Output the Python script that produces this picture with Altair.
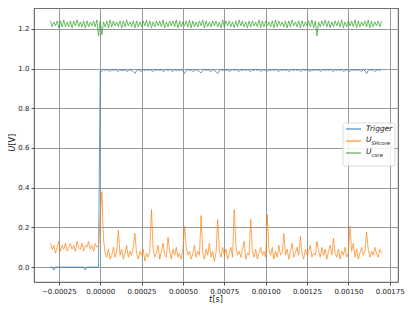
import altair as alt
import pandas as pd

# sample grid: start time and step (s)
T0 = -0.0003
DT = 1e-5

trigger = [
    0, 0, -0.015, 0, 0, 0, 0, 0, 0, 0,
    0, 0, 0, 0, 0, 0, 0, 0, 0, 0,
    0, -0.015, 0, 0, 0, 0, 0, 0, 0, 0,
    0.99, 0.985, 0.995, 0.99, 0.995, 0.99, 0.985, 0.995, 0.99, 0.995,
    0.99, 0.985, 0.995, 0.99, 0.99, 0.995, 0.985, 0.99, 0.995, 0.99,
    0.985, 0.975, 0.99, 0.995, 0.99, 0.985, 0.995, 0.99, 0.995, 0.99,
    0.995, 0.99, 0.985, 0.995, 0.99, 0.995, 0.99, 0.995, 0.985, 0.99,
    0.995, 0.99, 0.995, 0.99, 0.985, 0.995, 0.99, 0.995, 0.99, 0.995,
    0.99, 0.975, 0.99, 0.995, 0.99, 0.995, 0.985, 0.99, 0.995, 0.99,
    0.985, 0.978, 0.99, 0.995, 0.99, 0.995, 0.99, 0.985, 0.995, 0.99,
    0.985, 0.975, 0.99, 0.995, 0.99, 0.995, 0.99, 0.995, 0.985, 0.99,
    0.995, 0.99, 0.995, 0.99, 0.985, 0.995, 0.99, 0.995, 0.99, 0.995,
    0.99, 0.985, 0.995, 0.99, 0.995, 0.99, 0.995, 0.985, 0.99, 0.995,
    0.99, 0.985, 0.995, 0.99, 0.995, 0.99, 0.995, 0.99, 0.985, 0.995,
    0.99, 0.995, 0.99, 0.995, 0.985, 0.99, 0.995, 0.99, 0.995, 0.99,
    0.995, 0.985, 0.99, 0.995, 0.99, 0.995, 0.99, 0.985, 0.995, 0.99,
    0.995, 0.99, 0.995, 0.985, 0.99, 0.995, 0.99, 0.995, 0.99, 0.995,
    0.99, 0.985, 0.995, 0.99, 0.995, 0.99, 0.995, 0.985, 0.99, 0.995,
    0.99, 0.985, 0.995, 0.99, 0.995, 0.99, 0.995, 0.99, 0.985, 0.995,
    0.99, 0.975, 0.99, 0.995, 0.99, 0.995, 0.985, 0.99, 0.995, 0.99,
    0.995,
]

u_shcore = [
    0.12, 0.09, 0.11, 0.07, 0.10, 0.13, 0.08, 0.11, 0.09, 0.12,
    0.08, 0.10, 0.12, 0.09, 0.11, 0.08, 0.13, 0.10, 0.09, 0.12,
    0.08, 0.11, 0.10, 0.13, 0.09, 0.11, 0.08, 0.12, 0.10, 0.11,
    0.25, 0.38, 0.14, 0.07, 0.05, 0.09, 0.04, 0.06, 0.10, 0.05,
    0.08, 0.185, 0.06, 0.09, 0.04, 0.07, 0.11, 0.05, 0.08, 0.06,
    0.10, 0.17, 0.07, 0.04, 0.08, 0.06, 0.09, 0.03, 0.07, 0.05,
    0.08, 0.29, 0.09, 0.05, 0.07, 0.11, 0.04, 0.08, 0.12, 0.06,
    0.05, 0.15, 0.08, 0.04, 0.09, 0.06, 0.10, 0.05, 0.07, 0.04,
    0.09, 0.205, 0.10, 0.06, 0.08, 0.04, 0.07, 0.11, 0.05, 0.08,
    0.06, 0.26, 0.07, 0.04, 0.09, 0.06, 0.12, 0.05, 0.08, 0.03,
    0.07, 0.24, 0.08, 0.05, 0.10, 0.06, 0.09, 0.04, 0.07, 0.10,
    0.05, 0.29, 0.11, 0.06, 0.08, 0.05, 0.09, 0.13, 0.04, 0.07,
    0.06, 0.24, 0.08, 0.05, 0.09, 0.04, 0.07, 0.10, 0.06, 0.08,
    0.05, 0.265, 0.09, 0.06, 0.10, 0.04, 0.08, 0.05, 0.11, 0.06,
    0.07, 0.17, 0.06, 0.09, 0.04, 0.08, 0.12, 0.05, 0.07, 0.10,
    0.06, 0.155, 0.07, 0.04, 0.09, 0.06, 0.08, 0.11, 0.05, 0.07,
    0.06, 0.13, 0.08, 0.05, 0.10, 0.06, 0.09, 0.04, 0.08, 0.11,
    0.06, 0.145, 0.07, 0.05, 0.09, 0.04, 0.08, 0.06, 0.10, 0.05,
    0.07, 0.205, 0.08, 0.12, 0.05, 0.09, 0.04, 0.07, 0.10, 0.06,
    0.08, 0.175, 0.09, 0.05, 0.08, 0.06, 0.10, 0.07, 0.05, 0.09,
    0.07,
]

u_core = [
    1.24, 1.21, 1.235, 1.215, 1.24, 1.205, 1.24, 1.21, 1.245, 1.21,
    1.235, 1.21, 1.24, 1.205, 1.24, 1.215, 1.245, 1.21, 1.235, 1.21,
    1.24, 1.205, 1.24, 1.21, 1.235, 1.215, 1.24, 1.21, 1.245, 1.165,
    1.24, 1.17, 1.235, 1.21, 1.24, 1.205, 1.245, 1.21, 1.24, 1.215,
    1.235, 1.21, 1.24, 1.205, 1.24, 1.21, 1.245, 1.215, 1.235, 1.21,
    1.24, 1.205, 1.24, 1.21, 1.235, 1.21, 1.24, 1.215, 1.245, 1.21,
    1.24, 1.205, 1.235, 1.21, 1.24, 1.215, 1.24, 1.21, 1.245, 1.205,
    1.235, 1.21, 1.24, 1.215, 1.24, 1.21, 1.245, 1.205, 1.24, 1.21,
    1.235, 1.215, 1.24, 1.21, 1.245, 1.205, 1.24, 1.21, 1.235, 1.21,
    1.24, 1.215, 1.245, 1.205, 1.24, 1.21, 1.235, 1.21, 1.24, 1.215,
    1.24, 1.21, 1.235, 1.205, 1.245, 1.21, 1.24, 1.215, 1.24, 1.21,
    1.235, 1.205, 1.24, 1.21, 1.245, 1.215, 1.24, 1.21, 1.235, 1.205,
    1.24, 1.21, 1.24, 1.215, 1.235, 1.21, 1.245, 1.205, 1.24, 1.21,
    1.24, 1.215, 1.235, 1.21, 1.24, 1.205, 1.245, 1.21, 1.24, 1.215,
    1.235, 1.21, 1.24, 1.205, 1.24, 1.21, 1.245, 1.215, 1.235, 1.21,
    1.24, 1.205, 1.24, 1.21, 1.235, 1.215, 1.24, 1.21, 1.245, 1.205,
    1.24, 1.165, 1.235, 1.21, 1.24, 1.215, 1.245, 1.21, 1.24, 1.205,
    1.235, 1.21, 1.24, 1.215, 1.24, 1.21, 1.245, 1.205, 1.235, 1.21,
    1.24, 1.215, 1.24, 1.21, 1.245, 1.205, 1.24, 1.21, 1.235, 1.215,
    1.24, 1.21, 1.245, 1.205, 1.24, 1.21, 1.235, 1.215, 1.24, 1.21,
    1.24,
]

x_ticks = [-0.00025, 0.0, 0.00025, 0.0005, 0.00075, 0.001, 0.00125, 0.0015, 0.00175]
y_ticks = [0.0, 0.2, 0.4, 0.6, 0.8, 1.0, 1.2]
series_names = ["Trigger", "U_SHcore", "U_core"]
colors = ["#1f77b4", "#ff7f0e", "#2ca02c"]

t = [T0 + i * DT for i in range(len(trigger))]

FONT = "DejaVu Sans"
W, H = 364, 274

xscale = alt.Scale(domain=[-0.0004, 0.0018], nice=False, zero=False)
yscale = alt.Scale(domain=[-0.075, 1.305], nice=False, zero=False)


def series_chart(vals, color, with_axes=False):
    df = pd.DataFrame({"t": t, "v": vals})
    if with_axes:
        xenc = alt.X("t:Q", scale=xscale, title=None,
                     axis=alt.Axis(values=x_ticks, format=".5f"))
        yenc = alt.Y("v:Q", scale=yscale, title=None,
                     axis=alt.Axis(values=y_ticks, format=".1f"))
    else:
        xenc = alt.X("t:Q", scale=xscale)
        yenc = alt.Y("v:Q", scale=yscale)
    return alt.Chart(df).mark_line(color=color, strokeWidth=0.7).encode(x=xenc, y=yenc)


one = pd.DataFrame({"a": [0]})


def txt(s, x, y, size, italic=False, angle=0):
    kw = dict(font=FONT, fontSize=size, align="left", baseline="middle", color="#111")
    if italic:
        kw["fontStyle"] = "italic"
    if angle:
        kw["angle"] = angle
    return alt.Chart(one).mark_text(**kw).encode(
        x=alt.value(x), y=alt.value(y), text=alt.value(s))


layers = [
    series_chart(trigger, colors[0], with_axes=True),
    series_chart(u_shcore, colors[1]),
    series_chart(u_core, colors[2]),
]

# axis titles
layers += [
    txt("t", 175, 292, 8, italic=True),
    txt("[s]", 178.5, 292, 8),
    txt("U", -21, 143.5, 8, italic=True, angle=270),
    txt("[V]", -21, 137.5, 8, angle=270),
]

# legend
layers.append(
    alt.Chart(one).mark_rect(fill="white", stroke="#cccccc", strokeWidth=0.8,
                             cornerRadius=2, opacity=0.85).encode(
        x=alt.value(309), x2=alt.value(361), y=alt.value(115), y2=alt.value(158))
)
for k, yy in enumerate([121, 133, 145]):
    layers.append(
        alt.Chart(one).mark_rule(color=colors[k], strokeWidth=1).encode(
            x=alt.value(312), x2=alt.value(327), y=alt.value(yy))
    )
layers += [
    txt("Trigger", 332, 121, 7.5, italic=True),
    txt("U", 332, 132, 7.5, italic=True),
    txt("SHcore", 337.5, 135, 5.2, italic=True),
    txt("U", 332, 144, 7.5, italic=True),
    txt("core", 337.5, 147, 5.2, italic=True),
]

chart = alt.layer(*layers).properties(
    width=W, height=H,
    autosize=alt.AutoSizeParams(type="none"),
    padding={"left": 26, "top": 0, "right": 9, "bottom": 30},
).configure_view(
    stroke="#222222", strokeWidth=0.8
).configure_axis(
    domain=False, grid=True, gridColor="#999999", gridWidth=1,
    tickColor="#222222", tickSize=3, tickWidth=0.8,
    labelFont=FONT, labelFontSize=7, labelColor="#222222", labelPadding=2,
)

chart.save("out.html", embed_options={"renderer": "svg", "actions": False})
